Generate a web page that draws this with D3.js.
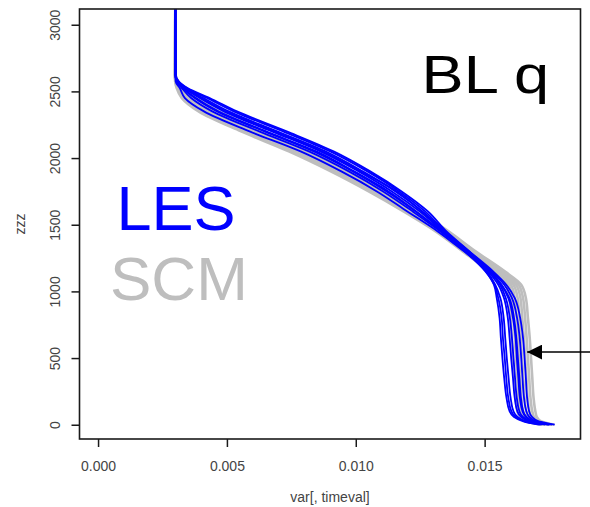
<!DOCTYPE html>
<html>
<head>
<meta charset="utf-8">
<script src="https://cdn.jsdelivr.net/npm/d3@7"></script>
<style>
  html, body { margin: 0; padding: 0; background: #fff; }
  svg { display: block; font-family: "Liberation Sans", Arial, Helvetica, sans-serif; }
</style>
</head>
<body>
<svg id="chart" width="590" height="507"></svg>
<script>
// Height levels (m) shared by every profile
const zLevels = [0, 25, 60, 100, 200, 350, 500, 650, 800, 950, 1050, 1150, 1300, 1450,
                 1600, 1750, 1900, 2050, 2200, 2350, 2450, 2525, 2575, 2625, 3200];

// LES ensemble members: specific humidity (kg/kg) at each level
const lesA = [0.01710,0.01650,0.01613,0.01597,0.01585,0.01576,0.01569,0.01563,0.01558,0.01547,0.01536,0.01505,0.01428,0.01345,0.01269,0.01168,0.01045,0.00901,0.00718,0.00526,0.00423,0.00344,0.00312,0.00301,0.00300];
const lesB = [0.01722,0.01662,0.01627,0.01612,0.01601,0.01593,0.01586,0.01580,0.01574,0.01561,0.01541,0.01508,0.01423,0.01337,0.01248,0.01140,0.01011,0.00863,0.00674,0.00488,0.00395,0.00335,0.00308,0.00300,0.00300];
const lesC = [0.01734,0.01674,0.01641,0.01627,0.01617,0.01610,0.01603,0.01597,0.01590,0.01575,0.01553,0.01513,0.01428,0.01328,0.01221,0.01106,0.00973,0.00818,0.00625,0.00443,0.00361,0.00325,0.00305,0.00300,0.00300];
const lesD = [0.01745,0.01682,0.01648,0.01635,0.01625,0.01618,0.01612,0.01606,0.01598,0.01582,0.01560,0.01522,0.01441,0.01352,0.01280,0.01178,0.01056,0.00914,0.00732,0.00539,0.00433,0.00347,0.00313,0.00302,0.00300];
const lesE = [0.01752,0.01692,0.01662,0.01650,0.01641,0.01635,0.01629,0.01623,0.01614,0.01596,0.01566,0.01518,0.01420,0.01318,0.01200,0.01082,0.00944,0.00786,0.00588,0.00411,0.00337,0.00317,0.00301,0.00300,0.00300];
const lesF = [0.01761,0.01701,0.01673,0.01662,0.01653,0.01647,0.01642,0.01636,0.01626,0.01606,0.01576,0.01527,0.01432,0.01331,0.01232,0.01120,0.00989,0.00837,0.00646,0.00462,0.00375,0.00329,0.00306,0.00300,0.00300];
const lesG = [0.01772,0.01710,0.01683,0.01673,0.01665,0.01660,0.01655,0.01649,0.01638,0.01617,0.01584,0.01533,0.01440,0.01345,0.01259,0.01154,0.01027,0.00882,0.00695,0.00507,0.00409,0.00340,0.00310,0.00301,0.00300];
const lesH = [0.01750,0.01690,0.01659,0.01647,0.01637,0.01631,0.01625,0.01620,0.01610,0.01592,0.01565,0.01520,0.01434,0.01340,0.01256,0.01159,0.01019,0.00869,0.00684,0.00496,0.00399,0.00337,0.00309,0.00300,0.00300];
const lesI = [0.01716,0.01656,0.01620,0.01604,0.01592,0.01584,0.01578,0.01571,0.01566,0.01553,0.01538,0.01503,0.01424,0.01333,0.01234,0.01127,0.00994,0.00847,0.00652,0.00467,0.00380,0.00330,0.00307,0.00300,0.00300];

// SCM ensemble members
const scm1 = [0.01720,0.01664,0.01638,0.01627,0.01620,0.01615,0.01610,0.01605,0.01602,0.01596,0.01582,0.01518,0.01415,0.01310,0.01185,0.01050,0.00903,0.00740,0.00555,0.00390,0.00325,0.00305,0.00299,0.00298,0.00300];
const scm2 = [0.01728,0.01674,0.01649,0.01639,0.01632,0.01627,0.01622,0.01617,0.01613,0.01607,0.01592,0.01528,0.01424,0.01318,0.01195,0.01062,0.00917,0.00755,0.00570,0.00404,0.00335,0.00310,0.00301,0.00298,0.00300];
const scm3 = [0.01737,0.01683,0.01659,0.01650,0.01643,0.01638,0.01633,0.01628,0.01624,0.01617,0.01602,0.01538,0.01432,0.01327,0.01205,0.01073,0.00930,0.00770,0.00585,0.00417,0.00345,0.00315,0.00303,0.00299,0.00300];
const scm4 = [0.01745,0.01692,0.01670,0.01662,0.01655,0.01650,0.01645,0.01640,0.01635,0.01628,0.01612,0.01548,0.01440,0.01335,0.01215,0.01085,0.00943,0.00785,0.00600,0.00430,0.00355,0.00320,0.00305,0.00299,0.00300];
const scm5 = [0.01753,0.01701,0.01681,0.01674,0.01667,0.01662,0.01657,0.01652,0.01646,0.01639,0.01622,0.01558,0.01448,0.01343,0.01225,0.01097,0.00956,0.00800,0.00615,0.00443,0.00365,0.00325,0.00307,0.00300,0.00300];
const scm6 = [0.01762,0.01710,0.01691,0.01685,0.01678,0.01673,0.01668,0.01663,0.01657,0.01649,0.01632,0.01568,0.01457,0.01352,0.01235,0.01108,0.00969,0.00815,0.00630,0.00456,0.00375,0.00330,0.00309,0.00300,0.00300];
const scm7 = [0.01770,0.01720,0.01702,0.01697,0.01690,0.01685,0.01680,0.01675,0.01668,0.01660,0.01642,0.01578,0.01465,0.01360,0.01245,0.01120,0.00983,0.00830,0.00645,0.00470,0.00385,0.00335,0.00311,0.00301,0.00300];

const lesMembers = [lesA, lesB, lesC, lesD, lesE, lesF, lesG, lesH, lesI];
const scmMembers = [scm1, scm2, scm3, scm4, scm5, scm6, scm7];

// Axis ticks and labels
const xTicks = [0, 0.005, 0.010, 0.015];
const yTicks = [0, 500, 1000, 1500, 2000, 2500, 3000];
const xTitle = "var[, timeval]";
const yTitle = "zzz";
const panelTitle = "BL q";
const legendNames = ["LES", "SCM"];

// Annotation arrow (data coordinates: from -> to)
const arrowFrom = [0.0192, 545];
const arrowTo = [0.01665, 545];

const svg = d3.select("#chart");
const box = { left: 79.5, right: 580.5, top: 9, bottom: 439 };

const x = d3.scaleLinear().domain([-0.00072, 0.01872]).range([box.left, box.right]);
const y = d3.scaleLinear().domain([-107, 3118]).range([box.bottom, box.top]);

svg.append("defs").append("clipPath").attr("id", "plotClip")
  .append("rect")
  .attr("x", box.left).attr("y", box.top)
  .attr("width", box.right - box.left).attr("height", box.bottom - box.top);

const toPoints = vals => zLevels.map((z, i) => ({ z, v: vals[i] })).reverse();

const line = d3.line()
  .x(d => x(d.v))
  .y(d => y(d.z))
  .curve(d3.curveMonotoneY);

const plot = svg.append("g").attr("clip-path", "url(#plotClip)");

plot.selectAll("path.scm")
  .data(scmMembers)
  .join("path")
  .attr("class", "scm")
  .attr("d", d => line(toPoints(d)))
  .attr("fill", "none")
  .attr("stroke", "#bebebe")
  .attr("stroke-width", 2.6)
  .attr("stroke-linejoin", "round");

plot.selectAll("path.les")
  .data(lesMembers)
  .join("path")
  .attr("class", "les")
  .attr("d", d => line(toPoints(d)))
  .attr("fill", "none")
  .attr("stroke", "#0000ff")
  .attr("stroke-width", 1.8)
  .attr("stroke-linejoin", "round");

// Frame
svg.append("rect")
  .attr("x", box.left).attr("y", box.top)
  .attr("width", box.right - box.left).attr("height", box.bottom - box.top)
  .attr("fill", "none").attr("stroke", "#1a1a1a").attr("stroke-width", 1.6);

// Left axis with rotated labels
const yAxis = svg.append("g")
  .attr("transform", `translate(${box.left},0)`)
  .call(d3.axisLeft(y).tickValues(yTicks).tickSize(8).tickFormat(d3.format("d")));
yAxis.select(".domain").remove();
yAxis.selectAll(".tick line").attr("stroke", "#1a1a1a").attr("stroke-width", 1.5);
yAxis.selectAll(".tick text")
  .attr("transform", "rotate(-90)")
  .attr("x", 0).attr("y", -20).attr("dy", null)
  .attr("text-anchor", "middle")
  .attr("font-size", 14)
  .attr("fill", "#444");

// Bottom axis
const xAxis = svg.append("g")
  .attr("transform", `translate(0,${box.bottom})`)
  .call(d3.axisBottom(x).tickValues(xTicks).tickSize(8).tickFormat(d3.format(".3f")));
xAxis.select(".domain").remove();
xAxis.selectAll(".tick line").attr("stroke", "#1a1a1a").attr("stroke-width", 1.5);
xAxis.selectAll(".tick text")
  .attr("y", 31.7).attr("dy", null)
  .attr("font-size", 14)
  .attr("fill", "#444");

// Axis titles
svg.append("text")
  .attr("x", (box.left + box.right) / 2).attr("y", 502)
  .attr("text-anchor", "middle").attr("font-size", 14).attr("fill", "#444")
  .text(xTitle);

svg.append("text")
  .attr("transform", `translate(25,${(box.top + box.bottom) / 2}) rotate(-90)`)
  .attr("text-anchor", "middle").attr("font-size", 14).attr("fill", "#444")
  .text(yTitle);

// Panel title
svg.append("text")
  .attr("transform", "translate(421.5,93) scale(1.17,1)")
  .attr("font-size", 54).attr("fill", "#000")
  .text(panelTitle);

// Legend words
svg.append("text")
  .attr("x", 116.5).attr("y", 230)
  .attr("font-size", 63).attr("fill", "#0000ff")
  .text(legendNames[0]);
svg.append("text")
  .attr("x", 110).attr("y", 300)
  .attr("font-size", 62).attr("fill", "#bebebe")
  .text(legendNames[1]);

// Arrow
svg.append("defs").append("marker")
  .attr("id", "arrowHead")
  .attr("viewBox", "0 0 15 15")
  .attr("refX", 15).attr("refY", 7.5)
  .attr("markerWidth", 15).attr("markerHeight", 15)
  .attr("markerUnits", "userSpaceOnUse")
  .attr("orient", "auto")
  .append("path").attr("d", "M0,0 L15,7.5 L0,15 Z").attr("fill", "#000");

svg.append("line")
  .attr("x1", x(arrowFrom[0])).attr("y1", y(arrowFrom[1]))
  .attr("x2", x(arrowTo[0])).attr("y2", y(arrowTo[1]))
  .attr("stroke", "#000").attr("stroke-width", 1.6)
  .attr("marker-end", "url(#arrowHead)");
</script>
</body>
</html>
